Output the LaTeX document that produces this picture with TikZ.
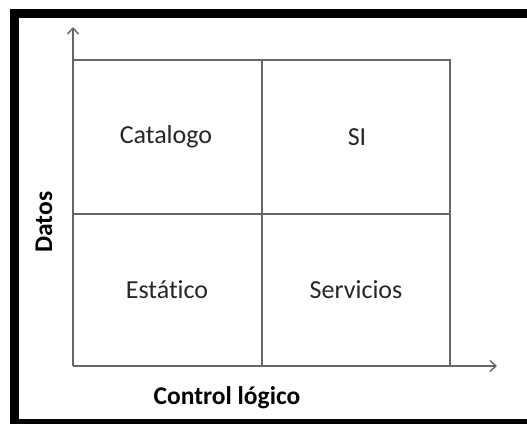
\documentclass[tikz,border=0pt]{standalone}
\usepackage{fontspec}
\setmainfont{Carlito}[Ligatures=CommonOff]
\usetikzlibrary{arrows.meta}
\tikzset{
  gridline/.style={draw=black!60, line width=1.4pt},
  axisline/.style={gridline, -{Straight Barb[length=6pt,width=11pt,line width=1.4pt]}},
  celltext/.style={font=\fontsize{26}{30}\selectfont, text=black!85, inner sep=0pt},
  axistext/.style={font=\fontsize{25.5}{30}\selectfont\bfseries, text=black, inner sep=0pt},
  frame/.style={fill=black, draw=none}
}
\begin{document}
\begin{tikzpicture}[x=1pt,y=-1pt]
\useasboundingbox (0,0) rectangle (527,424);
\fill[white] (0,0) rectangle (527,424);
% frame bars
\path[frame] (10,9) rectangle (19,424);
\path[frame] (10,9) rectangle (527,17.5);
\path[frame] (10,419) rectangle (527,424);
% grid coordinates
\coordinate (o) at (73,366);
\coordinate (ytip) at (73,27);
\coordinate (xtip) at (497,366);
\coordinate (tl) at (73,60);
\coordinate (tr) at (450,60);
\coordinate (br) at (450,366);
\coordinate (tm) at (262,60);
\coordinate (bm) at (262,366);
\coordinate (ml) at (73,214);
\coordinate (mr) at (450,214);
% grid
\draw[gridline] (tl) -- (tr) -- (br);
\draw[gridline] (tm) -- (bm);
\draw[gridline] (ml) -- (mr);
\draw[axisline] (o) -- (ytip);
\draw[axisline] (o) -- (xtip);
% labels
\node[celltext] (cat) at (166,137) {Catalogo};
\node[celltext] (si) at (357,137) {SI};
\node[celltext] (est) at (167,290) {Estático};
\node[celltext] (serv) at (356,290) {Servicios};
\node[axistext] (ctrl) at (227,398) {Control lógico};
\node[axistext, rotate=90] (datos) at (44,222) {Datos};
\end{tikzpicture}
\end{document}
